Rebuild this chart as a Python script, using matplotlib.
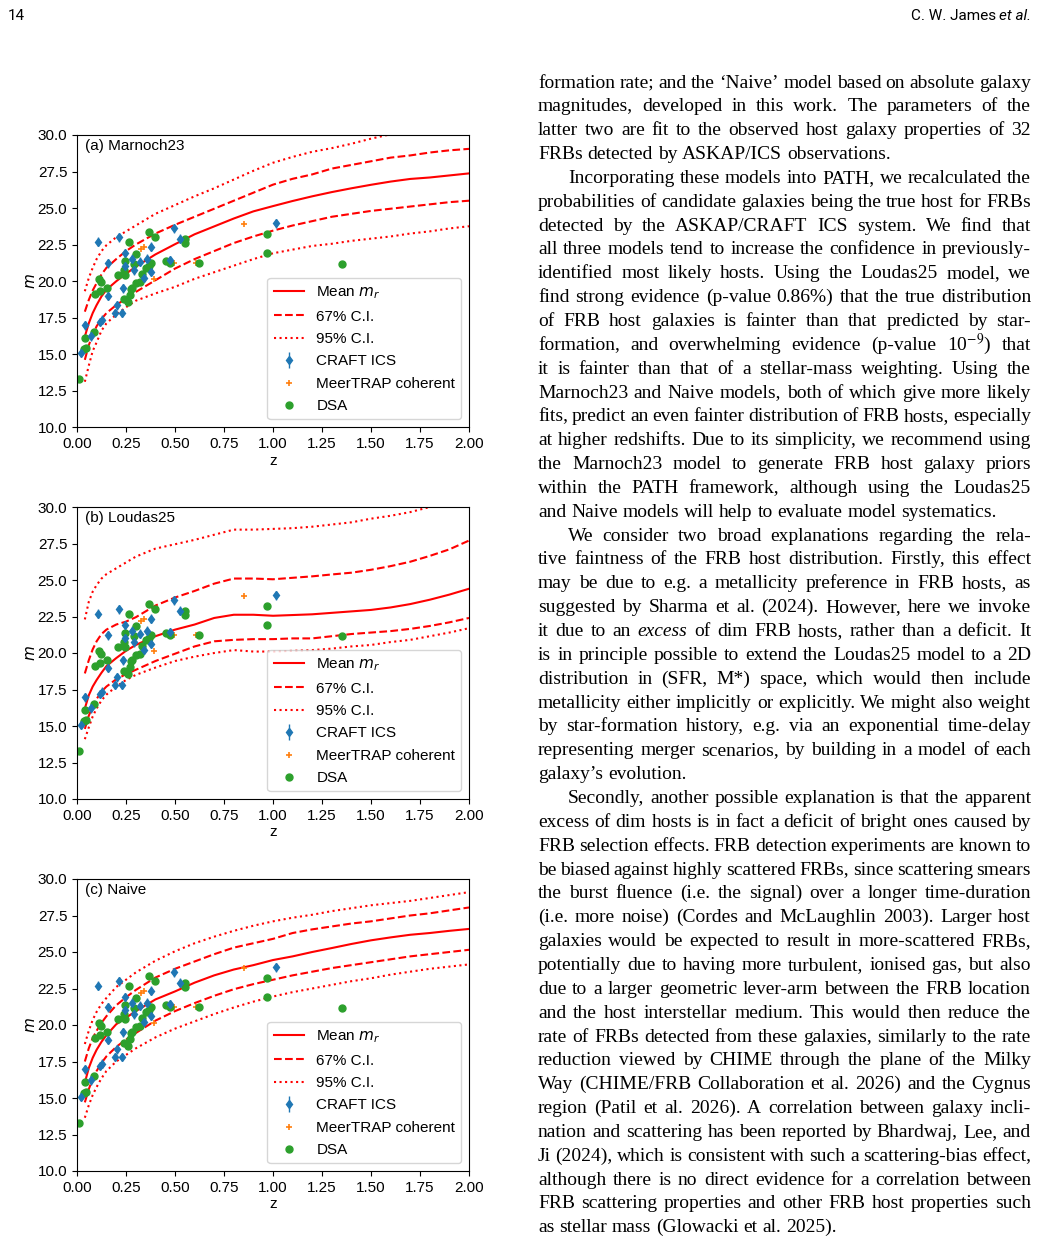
import numpy as np
import matplotlib.pyplot as plt
from matplotlib.ticker import MultipleLocator

W, H = 1042, 1249

# ---- host magnitudes of localised FRBs
craft_z = [0.106, 0.213, 0.243, 0.279, 0.32, 0.359, 0.376, 0.493, 0.524, 0.16,
           0.243, 0.291, 0.38, 0.34, 0.473, 0.158, 0.235, 0.206, 0.192, 0.232,
           0.126, 0.117, 0.043, 0.07, 0.022, 1.014]
craft_m = [22.68, 22.98, 21.89, 21.54, 21.31, 21.54, 22.34, 23.6, 22.91, 21.2,
           21.04, 20.74, 20.63, 20.2, 21.43, 18.98, 19.49, 18.34, 17.81, 17.81,
           17.36, 17.2, 16.97, 16.21, 15.07, 23.94]

meer_z = [0.325, 0.344, 0.391, 0.497, 0.609, 0.85]
meer_m = [22.16, 22.32, 20.13, 21.2, 21.25, 23.9]

dsa_z = [0.01, 0.041, 0.034, 0.044, 0.088, 0.094, 0.116, 0.112, 0.124, 0.155,
         0.207, 0.243, 0.264, 0.303, 0.367, 0.4, 0.241, 0.245, 0.289, 0.282,
         0.274, 0.27, 0.262, 0.238, 0.299, 0.323, 0.333, 0.354, 0.366, 0.378,
         0.452, 0.476, 0.551, 0.551, 0.622, 0.971, 0.968, 1.352]
dsa_m = [13.27, 16.1, 15.37, 15.42, 16.51, 19.12, 19.3, 20.17, 19.94, 19.53,
         20.38, 21.36, 22.69, 21.84, 23.33, 22.98, 20.74, 20.4, 21.15, 19.55,
         19.42, 19.03, 18.53, 18.8, 19.83, 19.92, 20.51, 20.86, 21.04, 21.2,
         21.38, 21.25, 22.91, 22.62, 21.2, 23.19, 21.93, 21.15]

# ---- model predictions (mean, 67% and 95% intervals) on a common z grid
zgrid = [0.04, 0.06, 0.08, 0.1, 0.125, 0.15, 0.2, 0.25, 0.3, 0.4, 0.5, 0.6, 0.7,
         0.8, 0.9, 1.0, 1.1, 1.2, 1.3, 1.4, 1.5, 1.6, 1.7, 1.8, 1.9, 2.0]

marnoch_mean = [16.2, 17.1, 17.8, 18.35, 18.95, 19.4, 19.98, 20.5, 20.98, 21.82, 22.52, 23.2, 23.74,
                24.28, 24.77, 25.13, 25.48, 25.8, 26.09, 26.35, 26.59, 26.81, 26.99, 27.09, 27.23, 27.37]
marnoch_hi67 = [17.9, 18.7, 19.35, 19.85, 20.45, 20.9, 21.5, 22.05, 22.5, 23.25, 23.85, 24.4, 24.95,
                25.5, 26.05, 26.6, 27.0, 27.3, 27.7, 27.95, 28.2, 28.45, 28.6, 28.8, 28.95, 29.05]
marnoch_lo67 = [14.6, 15.6, 16.3, 16.9, 17.4, 17.8, 18.35, 18.8, 19.25, 20.05, 20.85, 21.5, 22.05,
                22.6, 23.05, 23.45, 23.8, 24.1, 24.4, 24.6, 24.8, 24.95, 25.1, 25.25, 25.4, 25.5]
marnoch_hi95 = [19.3, 20.2, 20.9, 21.5, 22.05, 22.45, 23.0, 23.4, 23.8, 24.6, 25.2, 25.8, 26.35,
                26.95, 27.55, 28.1, 28.5, 28.85, 29.1, 29.4, 29.75, 30.05, 30.3, 30.55, 30.8, 31.0]
marnoch_lo95 = [13.1, 14.2, 15.2, 15.8, 16.6, 17.1, 17.7, 18.2, 18.65, 19.15, 19.6, 20.15, 20.6,
                21.05, 21.5, 21.9, 22.15, 22.4, 22.55, 22.75, 22.9, 23.05, 23.25, 23.4, 23.6, 23.75]

loudas_mean = [16.2, 17.1, 17.7, 18.15, 18.65, 19.1, 19.65, 20.15, 20.55, 21.15, 21.6, 21.95, 22.4,
               22.62, 22.62, 22.55, 22.6, 22.65, 22.75, 22.85, 22.95, 23.12, 23.35, 23.65, 24.0, 24.4]
loudas_hi67 = [18.6, 19.5, 20.25, 20.8, 21.3, 21.6, 21.95, 22.15, 22.45, 23.25, 23.8, 24.25, 24.75,
               25.1, 25.1, 25.05, 25.15, 25.25, 25.38, 25.5, 25.7, 25.95, 26.25, 26.65, 27.1, 27.7]
loudas_lo67 = [14.8, 15.7, 16.35, 16.85, 17.35, 17.7, 18.2, 18.55, 18.85, 19.45, 19.95, 20.45, 20.8,
               20.9, 20.95, 20.95, 21.0, 21.0, 21.15, 21.3, 21.4, 21.5, 21.65, 21.85, 22.1, 22.4]
loudas_hi95 = [22.3, 23.5, 24.2, 24.65, 25.1, 25.4, 25.8, 26.2, 26.6, 27.15, 27.45, 27.75, 28.1,
               28.45, 28.45, 28.5, 28.55, 28.65, 28.8, 28.95, 29.2, 29.4, 29.65, 30.0, 30.2, 30.4]
loudas_lo95 = [14.1, 14.9, 15.65, 16.2, 16.75, 17.15, 17.7, 18.15, 18.5, 19.0, 19.45, 19.75, 20.0,
               20.2, 20.1, 20.1, 20.15, 20.2, 20.3, 20.45, 20.55, 20.75, 20.9, 21.15, 21.4, 21.7]

naive_mean = [16.05, 17.05, 17.75, 18.3, 18.85, 19.3, 20.05, 20.5, 20.95, 21.75, 22.3, 22.9, 23.4,
              23.8, 24.1, 24.45, 24.7, 25.0, 25.27, 25.55, 25.8, 26.0, 26.18, 26.3, 26.45, 26.58]
naive_hi67 = [17.5, 18.4, 19.1, 19.6, 20.15, 20.6, 21.35, 21.9, 22.4, 23.25, 23.85, 24.35, 24.85,
              25.3, 25.6, 25.9, 26.3, 26.55, 26.75, 26.95, 27.1, 27.3, 27.5, 27.65, 27.85, 28.05]
naive_lo67 = [14.7, 15.6, 16.3, 16.85, 17.4, 17.85, 18.5, 19.0, 19.45, 20.3, 20.95, 21.5, 22.0,
              22.45, 22.8, 23.1, 23.4, 23.65, 23.9, 24.1, 24.3, 24.5, 24.7, 24.85, 25.0, 25.15]
naive_hi95 = [18.7, 19.6, 20.35, 20.9, 21.45, 21.85, 22.6, 23.1, 23.6, 24.4, 25.05, 25.6, 26.05,
              26.45, 26.8, 27.1, 27.35, 27.55, 27.8, 28.0, 28.2, 28.35, 28.5, 28.7, 28.9, 29.1]
naive_lo95 = [13.65, 14.5, 15.2, 15.75, 16.35, 16.85, 17.5, 17.95, 18.4, 19.15, 19.75, 20.25, 20.75,
              21.2, 21.6, 21.95, 22.25, 22.5, 22.75, 23.0, 23.2, 23.45, 23.65, 23.85, 24.0, 24.15]

panel_titles = ["(a) Marnoch23", "(b) Loudas25", "(c) Naive"]
models = [
    (marnoch_mean, marnoch_lo67, marnoch_hi67, marnoch_lo95, marnoch_hi95),
    (loudas_mean, loudas_lo67, loudas_hi67, loudas_lo95, loudas_hi95),
    (naive_mean, naive_lo67, naive_hi67, naive_lo95, naive_hi95),
]
legend_order = [r"Mean $m_r$", "67% C.I.", "95% C.I.", "CRAFT ICS",
                "MeerTRAP coherent", "DSA"]

# ---- page text (right column), one entry per printed line
paragraphs = [
    (False, [
        "formation rate; and the ‘Naive’ model based on absolute galaxy",
        "magnitudes, developed in this work.  The parameters of the",
        "latter two are fit to the observed host galaxy properties of 32",
        "FRBs detected by ASKAP/ICS observations.",
    ]),
    (True, [
        "Incorporating these models into PATH, we recalculated the",
        "probabilities of candidate galaxies being the true host for FRBs",
        "detected by the ASKAP/CRAFT ICS system.  We find that",
        "all three models tend to increase the confidence in previously-",
        "identified most likely hosts. Using the Loudas25 model, we",
        "find strong evidence (p-value 0.86%) that the true distribution",
        "of FRB host galaxies is fainter than that predicted by star-",
        "formation, and overwhelming evidence (p-value 10$^{-9}$) that",
        "it is fainter than that of a stellar-mass weighting. Using the",
        "Marnoch23 and Naive models, both of which give more likely",
        "fits, predict an even fainter distribution of FRB hosts, especially",
        "at higher redshifts. Due to its simplicity, we recommend using",
        "the Marnoch23 model to generate FRB host galaxy priors",
        "within the PATH framework, although using the Loudas25",
        "and Naive models will help to evaluate model systematics.",
    ]),
    (True, [
        "We consider two broad explanations regarding the rela-",
        "tive faintness of the FRB host distribution. Firstly, this effect",
        "may be due to e.g. a metallicity preference in FRB hosts, as",
        "suggested by Sharma et al. (2024). However, here we invoke",
        "it due to an <i>excess</i> of dim FRB hosts, rather than a deficit. It",
        "is in principle possible to extend the Loudas25 model to a 2D",
        "distribution in (SFR, M*) space, which would then include",
        "metallicity either implicitly or explicitly. We might also weight",
        "by star-formation history, e.g. via an exponential time-delay",
        "representing merger scenarios, by building in a model of each",
        "galaxy’s evolution.",
    ]),
    (True, [
        "Secondly, another possible explanation is that the apparent",
        "excess of dim hosts is in fact a deficit of bright ones caused by",
        "FRB selection effects. FRB detection experiments are known to",
        "be biased against highly scattered FRBs, since scattering smears",
        "the burst fluence (i.e. the signal) over a longer time-duration",
        "(i.e. more noise) (Cordes and McLaughlin 2003). Larger host",
        "galaxies would be expected to result in more-scattered FRBs,",
        "potentially due to having more turbulent, ionised gas, but also",
        "due to a larger geometric lever-arm between the FRB location",
        "and the host interstellar medium. This would then reduce the",
        "rate of FRBs detected from these galaxies, similarly to the rate",
        "reduction viewed by CHIME through the plane of the Milky",
        "Way (CHIME/FRB Collaboration et al. 2026) and the Cygnus",
        "region (Patil et al. 2026). A correlation between galaxy incli-",
        "nation and scattering has been reported by Bhardwaj, Lee, and",
        "Ji (2024), which is consistent with such a scattering-bias effect,",
        "although there is no direct evidence for a correlation between",
        "FRB scattering properties and other FRB host properties such",
        "as stellar mass (Glowacki et al. 2025).",
    ]),
]

plt.rcParams["font.family"] = ["Liberation Sans", "DejaVu Sans"]

fig = plt.figure(figsize=(W / 100, H / 100), dpi=100)
renderer = fig.canvas.get_renderer()

# ---- the three panels
panel_top = [135, 507, 879]
ax_left, ax_right, ax_h = 77, 469, 292

for top, title, curves in zip(panel_top, panel_titles, models):
    ax = fig.add_axes([ax_left / W, 1 - (top + ax_h) / H,
                       (ax_right - ax_left) / W, ax_h / H])
    mean, lo67, hi67, lo95, hi95 = curves
    ax.plot(zgrid, mean, c="r", lw=1.5, label=r"Mean $m_r$")
    ax.plot(zgrid, lo67, c="r", lw=1.5, ls="--", label="67% C.I.")
    ax.plot(zgrid, hi67, c="r", lw=1.5, ls="--")
    ax.plot(zgrid, lo95, c="r", lw=1.5, ls=":", label="95% C.I.")
    ax.plot(zgrid, hi95, c="r", lw=1.5, ls=":")

    ax.errorbar(craft_z, craft_m, yerr=0.3, fmt="d", ms=4.5, c="C0",
                elinewidth=1, label="CRAFT ICS")
    ax.plot(meer_z, meer_m, "+", ms=5, mew=1.2, c="C1", label="MeerTRAP coherent")
    ax.plot(dsa_z, dsa_m, "o", ms=5, c="C2", label="DSA")

    ax.set_xlim(0, 2)
    ax.set_ylim(10, 30)
    ax.xaxis.set_major_locator(MultipleLocator(0.25))
    ax.yaxis.set_major_locator(MultipleLocator(2.5))
    ax.tick_params(labelsize=11)
    ax.set_xlabel("z", fontsize=11, labelpad=2)
    ax.set_ylabel(r"$m$", fontsize=11, labelpad=0)
    ax.text(0.02, 0.985, title, transform=ax.transAxes, va="top", fontsize=11)

    handles, labels = ax.get_legend_handles_labels()
    lookup = dict(zip(labels, handles))
    ax.legend([lookup[k] for k in legend_order], legend_order,
              loc="lower right", fontsize=11, labelspacing=0.55)

# ---- running header
hdr_font = ["Liberation Sans Narrow", "Roboto"]
fig.text(8 / W, 1 - 20 / H, "14", fontsize=11, family=hdr_font, va="baseline")
etal = fig.text(1031 / W, 1 - 20 / H, "et al.", fontsize=11, family=hdr_font,
                style="italic", va="baseline", ha="right")
etal_w = etal.get_window_extent(renderer).width
fig.text((1031 - etal_w - 3) / W, 1 - 20 / H, "C. W. James", fontsize=11,
         family=hdr_font, va="baseline", ha="right")

# ---- justified body text
serif = ["Liberation Serif", "DejaVu Serif"]
x0, x1, indent = 538, 1031, 30
base0, step = 87.5, 23.85
fs = 14.0
min_gap = 3.0


def make_word(word, size):
    style = "normal"
    if word.startswith("<i>"):
        word = word.replace("<i>", "").replace("</i>", "")
        style = "italic"
    return fig.text(0, 0, word, fontsize=size, family=serif, style=style,
                    va="baseline", math_fontfamily="stix")


row = 0
for ind, lines in paragraphs:
    for k, line in enumerate(lines):
        words = line.split()
        start = x0 + (indent if ind and k == 0 else 0)
        last = k == len(lines) - 1
        size = fs
        objs = [make_word(w, size) for w in words]
        widths = [o.get_window_extent(renderer).width for o in objs]
        room = x1 - start - (len(words) - 1) * min_gap
        if sum(widths) > room:
            # squeeze this line a little so it stays inside the column
            size = fs * room / sum(widths)
            for o in objs:
                o.set_fontsize(size)
            widths = [o.get_window_extent(renderer).width for o in objs]
        if last or len(words) == 1:
            gap = 0.25 * size * 100 / 72
        else:
            gap = (x1 - start - sum(widths)) / (len(words) - 1)
        y = 1 - (base0 + row * step) / H
        x = start
        for o, w in zip(objs, widths):
            o.set_position((x / W, y))
            x += w + gap
        row += 1

plt.savefig("out.png", dpi=100)
